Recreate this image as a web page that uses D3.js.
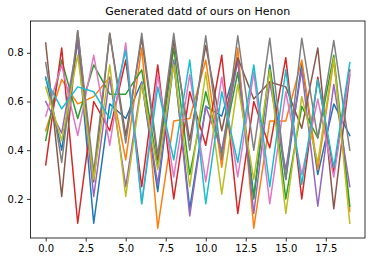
<!DOCTYPE html>
<html lang="en">
<head>
<meta charset="UTF-8">
<title>Henon</title>
<script src="https://cdn.jsdelivr.net/npm/d3@7"></script>
<style>
    html, body { margin: 0; padding: 0; background: #fff; }
    svg text { font-family: "DejaVu Sans", sans-serif; fill: #000; }
</style>
</head>
<body>
<div id="chart"></div>
<script>
    const title = "Generated datd of ours on Henon";
    const steps = d3.range(20);
    const xTicks = [0, 2.5, 5, 7.5, 10, 12.5, 15, 17.5];
    const yTicks = [0.2, 0.4, 0.6, 0.8];
    const colors = ["#1f77b4", "#ff7f0e", "#2ca02c", "#d62728", "#9467bd",
                    "#8c564b", "#e377c2", "#7f7f7f", "#bcbd22", "#17becf"];

    // one array per generated sequence
    const s0 = [0.70, 0.40, 0.85, 0.10, 0.59, 0.53, 0.68, 0.23, 0.76, 0.16, 0.58, 0.54, 0.77, 0.21, 0.75, 0.28, 0.76, 0.30, 0.59, 0.46];
    const s1 = [0.48, 0.69, 0.59, 0.62, 0.70, 0.36, 0.82, 0.08, 0.52, 0.53, 0.77, 0.33, 0.82, 0.08, 0.52, 0.52, 0.77, 0.32, 0.77, 0.15];
    const s2 = [0.44, 0.77, 0.53, 0.75, 0.63, 0.63, 0.73, 0.33, 0.82, 0.30, 0.64, 0.39, 0.72, 0.20, 0.74, 0.20, 0.58, 0.45, 0.79, 0.17];
    const s3 = [0.34, 0.82, 0.10, 0.60, 0.48, 0.77, 0.25, 0.75, 0.20, 0.64, 0.42, 0.79, 0.14, 0.60, 0.41, 0.78, 0.20, 0.70, 0.31, 0.73];
    const s4 = [0.60, 0.47, 0.85, 0.21, 0.70, 0.25, 0.68, 0.26, 0.77, 0.13, 0.58, 0.40, 0.77, 0.14, 0.68, 0.32, 0.73, 0.17, 0.67, 0.25];
    const s5 = [0.84, 0.21, 0.89, 0.27, 0.88, 0.46, 0.86, 0.36, 0.85, 0.44, 0.83, 0.48, 0.78, 0.61, 0.68, 0.66, 0.49, 0.82, 0.16, 0.71];
    const s6 = [0.54, 0.75, 0.46, 0.79, 0.42, 0.84, 0.18, 0.71, 0.29, 0.71, 0.27, 0.70, 0.29, 0.72, 0.18, 0.64, 0.30, 0.61, 0.29, 0.72];
    const s7 = [0.76, 0.35, 0.89, 0.31, 0.88, 0.43, 0.88, 0.38, 0.88, 0.40, 0.87, 0.36, 0.87, 0.40, 0.86, 0.28, 0.86, 0.45, 0.85, 0.40];
    const s8 = [0.66, 0.44, 0.79, 0.28, 0.75, 0.21, 0.67, 0.32, 0.75, 0.25, 0.72, 0.22, 0.67, 0.28, 0.73, 0.14, 0.62, 0.35, 0.78, 0.10];
    const s9 = [0.69, 0.57, 0.66, 0.64, 0.53, 0.81, 0.18, 0.66, 0.36, 0.77, 0.18, 0.64, 0.35, 0.75, 0.25, 0.73, 0.26, 0.69, 0.33, 0.76];
    const series = [s0, s1, s2, s3, s4, s5, s6, s7, s8, s9];

    const width = 372, height = 262;
    const margin = {top: 21, right: 7, bottom: 24, left: 30.5};
    const innerW = width - margin.left - margin.right;
    const innerH = height - margin.top - margin.bottom;

    const svg = d3.select('#chart').append('svg')
        .attr('width', width)
        .attr('height', height);

    // matplotlib style autoscale: 5% padding around the data
    const xPad = (steps.length - 1) * 0.05;
    const x = d3.scaleLinear()
        .domain([-xPad, steps.length - 1 + xPad])
        .range([margin.left, margin.left + innerW]);

    const yMin = d3.min(series, s => d3.min(s)), yMax = d3.max(series, s => d3.max(s));
    const yPad = (yMax - yMin) * 0.05;
    const y = d3.scaleLinear()
        .domain([yMin - yPad, yMax + yPad])
        .range([margin.top + innerH, margin.top]);

    const line = d3.line()
        .x((d, i) => x(steps[i]))
        .y(d => y(d));

    svg.append('clipPath').attr('id', 'plot-area')
        .append('rect')
        .attr('x', margin.left).attr('y', margin.top)
        .attr('width', innerW).attr('height', innerH);

    svg.append('g')
        .attr('clip-path', 'url(#plot-area)')
        .selectAll('path')
        .data(series)
        .join('path')
        .attr('d', line)
        .attr('fill', 'none')
        .attr('stroke', (d, i) => colors[i])
        .attr('stroke-width', 1.5)
        .attr('stroke-linejoin', 'round')
        .attr('stroke-linecap', 'square');

    const xAxis = d3.axisBottom(x)
        .tickValues(xTicks)
        .tickFormat(d3.format('.1f'))
        .tickSizeInner(3.5)
        .tickSizeOuter(0)
        .tickPadding(3.5);

    const yAxis = d3.axisLeft(y)
        .tickValues(yTicks)
        .tickFormat(d3.format('.1f'))
        .tickSizeInner(3.5)
        .tickSizeOuter(0)
        .tickPadding(3.5);

    const gx = svg.append('g')
        .attr('transform', `translate(0,${margin.top + innerH})`)
        .call(xAxis);
    const gy = svg.append('g')
        .attr('transform', `translate(${margin.left},0)`)
        .call(yAxis);

    [gx, gy].forEach(g => {
        g.select('.domain').remove();
        g.selectAll('.tick line').attr('stroke', '#000').attr('stroke-width', 0.8);
        g.selectAll('.tick text').attr('font-size', 10).style('font-family', '"DejaVu Sans", sans-serif');
    });

    // frame
    svg.append('rect')
        .attr('x', margin.left).attr('y', margin.top)
        .attr('width', innerW).attr('height', innerH)
        .attr('fill', 'none')
        .attr('stroke', '#000')
        .attr('stroke-width', 0.8);

    svg.append('text')
        .attr('x', margin.left + innerW / 2)
        .attr('y', margin.top - 6)
        .attr('text-anchor', 'middle')
        .attr('font-size', 11)
        .text(title);
</script>
</body>
</html>
